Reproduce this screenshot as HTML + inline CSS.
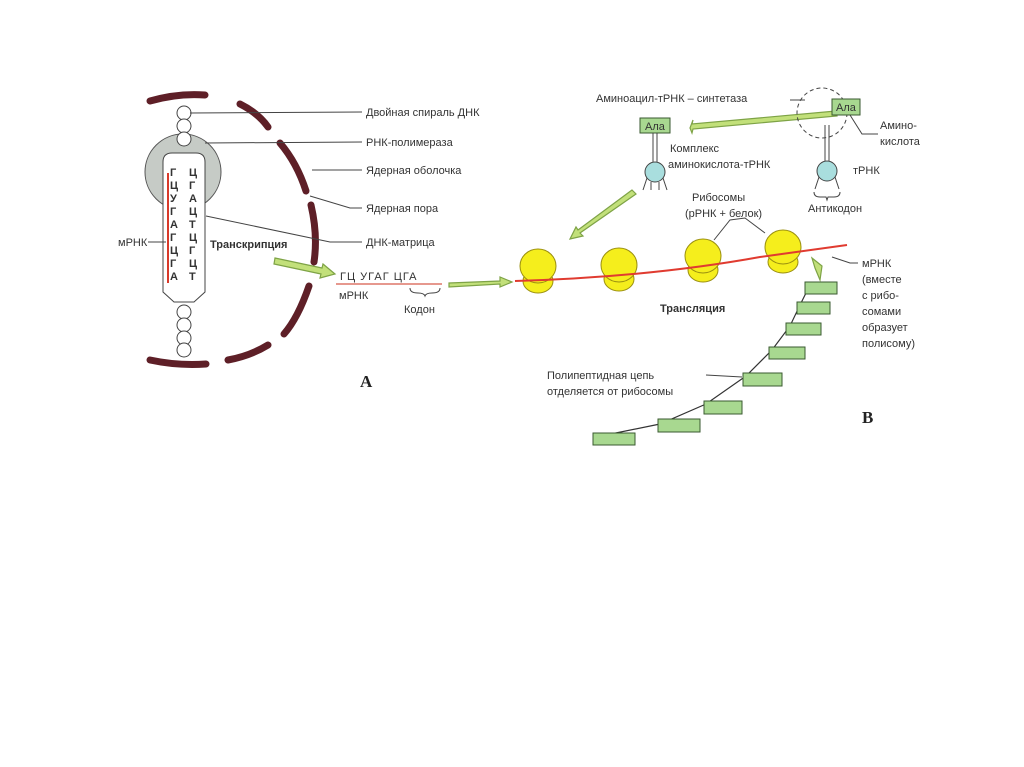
<!DOCTYPE html>
<html><head><meta charset="utf-8"><style>
html,body{margin:0;padding:0;background:#fff;}
svg{display:block}
text{font-family:"Liberation Sans","DejaVu Sans",sans-serif;fill:#333;font-size:11px}
.b{font-weight:bold}
.l{stroke:#444;stroke-width:1;fill:none}
.ar{fill:#c2e07a;stroke:#7ea346;stroke-width:1.2}
.rib{fill:#f5ee1c;stroke:#9a8f10;stroke-width:1}
.pb{fill:#a8d890;stroke:#3a5a30;stroke-width:1}
.serif{font-family:"Liberation Serif",serif;font-size:17px;font-weight:bold;fill:#222}
</style></head><body>
<svg width="1024" height="767" viewBox="0 0 1024 767">
<g fill="none" stroke="#5e1f27" stroke-width="7" stroke-linecap="round">
<path d="M150,101 Q178,93 205,95"/>
<path d="M240,104 Q258,113 268,127"/>
<path d="M280,143 Q297,163 306,191"/>
<path d="M311,205 Q318,235 314,262"/>
<path d="M309,286 Q298,318 284,334"/>
<path d="M268,345 Q250,356 228,360"/>
<path d="M150,360 Q178,366 206,364"/>
</g>
<circle cx="183" cy="172" r="38" fill="#c6cbc6" stroke="#555" stroke-width="1"/>
<g fill="#fff" stroke="#444" stroke-width="1">
<ellipse cx="184" cy="113" rx="7" ry="7"/><ellipse cx="184" cy="126" rx="7" ry="7"/><ellipse cx="184" cy="139" rx="7" ry="7"/>
<ellipse cx="184" cy="312" rx="7" ry="7"/><ellipse cx="184" cy="325" rx="7" ry="7"/><ellipse cx="184" cy="338" rx="7" ry="7"/><ellipse cx="184" cy="350" rx="7" ry="7"/>
</g>
<path d="M163,162 Q163,153 172,153 L196,153 Q205,153 205,162 L205,292 L194,302 L174,302 L163,292 Z" fill="#fff" stroke="#444"/>
<line x1="168" y1="173" x2="168" y2="283" stroke="#d83a2a" stroke-width="2"/>
<g font-size="10" class="b">
<text x="170" y="176">Г</text><text x="170" y="189">Ц</text><text x="170" y="202">У</text><text x="170" y="215">Г</text><text x="170" y="228">А</text><text x="170" y="241">Г</text><text x="170" y="254">Ц</text><text x="170" y="267">Г</text><text x="170" y="280">А</text>
<text x="189" y="176">Ц</text><text x="189" y="189">Г</text><text x="189" y="202">А</text><text x="189" y="215">Ц</text><text x="189" y="228">Т</text><text x="189" y="241">Ц</text><text x="189" y="254">Г</text><text x="189" y="267">Ц</text><text x="189" y="280">Т</text>
</g>
<text x="118" y="246">мРНК</text><line class="l" x1="148" y1="242" x2="166" y2="242"/>
<text x="210" y="248" class="b" font-size="10.5">Транскрипция</text>
<line class="l" x1="190" y1="113" x2="362" y2="112"/>
<line class="l" x1="205" y1="143" x2="362" y2="142"/>
<line class="l" x1="312" y1="170" x2="362" y2="170"/>
<polyline class="l" points="310,196 350,208 362,208"/>
<polyline class="l" points="206,216 330,242 362,242"/>
<text x="366" y="116">Двойная спираль ДНК</text>
<text x="366" y="146">РНК-полимераза</text>
<text x="366" y="174">Ядерная оболочка</text>
<text x="366" y="212">Ядерная пора</text>
<text x="366" y="246">ДНК-матрица</text>
<path class="ar" d="M275,258 L322,268 L323,264 L335,274 L320,278 L321,274 L274,264 Z"/>
<path class="ar" d="M449,283 L500,281 L500,277 L512,282 L500,287 L500,284 L449,287 Z"/>
<text x="340" y="280" font-size="11" letter-spacing="1">ГЦ УГАГ ЦГА</text>
<line x1="336" y1="284" x2="442" y2="284" stroke="#d85a4a" stroke-width="1.2"/>
<text x="339" y="299">мРНК</text>
<path class="l" d="M410,288 Q410,293 418,293 Q424,293 425,296 Q426,293 432,293 Q440,293 440,288"/>
<text x="404" y="313">Кодон</text>
<text x="360" y="387" class="serif">А</text>
<text x="862" y="423" class="serif">В</text>
<g>
<ellipse class="rib" cx="538" cy="281" rx="15" ry="12"/><ellipse class="rib" cx="538" cy="266" rx="18" ry="17"/>
<ellipse class="rib" cx="619" cy="279" rx="15" ry="12"/><ellipse class="rib" cx="619" cy="265" rx="18" ry="17"/>
<ellipse class="rib" cx="703" cy="270" rx="15" ry="12"/><ellipse class="rib" cx="703" cy="256" rx="18" ry="17"/>
<ellipse class="rib" cx="783" cy="262" rx="15" ry="11"/><ellipse class="rib" cx="783" cy="247" rx="18" ry="17"/>
</g>
<path d="M515,281 Q650,277 760,257 L847,245" fill="none" stroke="#e03b30" stroke-width="2"/>
<polyline class="l" points="714,240 730,220 745,218 765,233"/>
<text x="692" y="201">Рибосомы</text>
<text x="685" y="217">(рРНК + белок)</text>
<text x="660" y="312" class="b" font-size="10.5">Трансляция</text>
<polyline class="l" points="832,257 850,263 858,263"/>
<text x="862" y="267">мРНК</text><text x="862" y="283">(вместе</text><text x="862" y="299">с рибо-</text><text x="862" y="315">сомами</text><text x="862" y="331">образует</text><text x="862" y="347">полисому)</text>
<path class="ar" d="M836,111 L692,124 L693,120 L690,128 L692,133 L693,129 L837,116 Z"/>
<rect x="640" y="118" width="30" height="15" fill="#a8d890" stroke="#3a5a30"/><text x="645" y="130" font-size="9">Ала</text>
<line x1="653" y1="133" x2="653" y2="162" stroke="#444"/><line x1="657" y1="133" x2="657" y2="162" stroke="#444"/>
<circle cx="655" cy="172" r="10" fill="#a9dede" stroke="#444"/>
<path class="l" d="M647,178 L643,190 M663,178 L667,190 M651,182 L651,190 M659,182 L659,190"/>
<text x="670" y="152">Комплекс</text><text x="668" y="168">аминокислота-тРНК</text>
<path class="ar" d="M632,190 L578,230 L576,227 L570,239 L583,236 L580,233 L636,194 Z"/>
<circle cx="822" cy="113" r="25" fill="none" stroke="#444" stroke-dasharray="4,3"/>
<rect x="832" y="99" width="28" height="16" fill="#a8d890" stroke="#3a5a30"/><text x="836" y="111" font-size="9">Ала</text>
<line x1="825" y1="125" x2="825" y2="162" stroke="#444"/><line x1="829" y1="125" x2="829" y2="162" stroke="#444"/>
<circle cx="827" cy="171" r="10" fill="#a9dede" stroke="#444"/>
<path class="l" d="M819,177 L815,189 M835,177 L839,189"/>
<path class="l" d="M814,192 Q814,197 820,197 L826,197 L827,200 L828,197 L834,197 Q840,197 840,192"/>
<text x="808" y="212">Антикодон</text>
<text x="853" y="174">тРНК</text>
<polyline class="l" points="850,115 862,134 878,134"/>
<text x="880" y="129">Амино-</text><text x="880" y="145">кислота</text>
<line class="l" x1="790" y1="100" x2="805" y2="100"/>
<text x="596" y="102">Аминоацил-тРНК – синтетаза</text>
<path class="ar" d="M812,258 L822,266 L820,280 L815,268 Z"/>
<polyline points="596,437 660,424 706,404 746,376 772,350 790,326 800,305 810,285" fill="none" stroke="#333" stroke-width="1.2"/>
<g>
<rect class="pb" x="805" y="282" width="32" height="12"/>
<rect class="pb" x="797" y="302" width="33" height="12"/>
<rect class="pb" x="786" y="323" width="35" height="12"/>
<rect class="pb" x="769" y="347" width="36" height="12"/>
<rect class="pb" x="743" y="373" width="39" height="13"/>
<rect class="pb" x="704" y="401" width="38" height="13"/>
<rect class="pb" x="658" y="419" width="42" height="13"/>
<rect class="pb" x="593" y="433" width="42" height="12"/>
</g>
<line class="l" x1="706" y1="375" x2="742" y2="377"/>
<text x="547" y="379">Полипептидная цепь</text>
<text x="547" y="395">отделяется от рибосомы</text>
</svg>
</body></html>
